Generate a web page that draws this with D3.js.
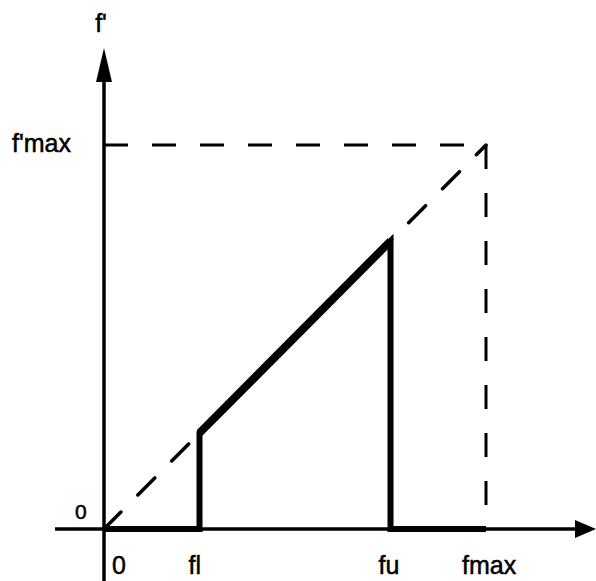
<!DOCTYPE html>
<html>
<head>
<meta charset="utf-8">
<script src="https://cdn.jsdelivr.net/npm/d3@7"></script>
<style>
  html, body { margin: 0; padding: 0; background: #fff; }
  svg { display: block; }
  text { font-family: "Liberation Sans", Arial, Helvetica, sans-serif; fill: #000; stroke: #000; stroke-width: 0.5px; }
</style>
</head>
<body>
<script>
// ---- data ----
const fl = 0.25;
const fu = 0.75;
const fmax = 1;
const fpmax = 1;
const xTickValues = [0, fl, fu, fmax];
const xTickLabels = ["0", "fl", "fu", "fmax"];
const yTickValues = [0, fpmax];
const yTickLabels = ["0", "f'max"];
const axisLabelY = "f'";
// pass-band response (solid) : f -> f'
const responseF = [0, fl, fl, fu, fu, fmax];
const responseFp = [0, 0, fl, fu, 0, 0];
// ideal full-range response (dashed)
const idealF = [0, fmax];
const idealFp = [0, fpmax];

// ---- drawing ----
const W = 596, H = 581;
const svg = d3.select("body").append("svg").attr("width", W).attr("height", H);

const x = d3.scaleLinear().domain([0, fmax]).range([104, 486]);
const y = d3.scaleLinear().domain([0, fpmax]).range([529, 145]);

const line = d3.line().x(d => x(d[0])).y(d => y(d[1]));

// axes
svg.append("line").attr("x1", 55).attr("x2", 578).attr("y1", y(0)).attr("y2", y(0))
  .attr("stroke", "#000").attr("stroke-width", 3.5);
svg.append("path")
  .attr("d", `M596,${y(0)} L575,${y(0) - 9} L575,${y(0) + 9} Z`).attr("fill", "#000");
svg.append("line").attr("x1", x(0)).attr("x2", x(0)).attr("y1", 80).attr("y2", H)
  .attr("stroke", "#000").attr("stroke-width", 3.5);
svg.append("path")
  .attr("d", `M${x(0)},48 L${x(0) - 8},82 L${x(0) + 8},82 Z`).attr("fill", "#000");

// dashed guides
const dash = "24,24";
svg.append("path").attr("d", line([[0, fpmax], [fmax, fpmax]]))
  .attr("fill", "none").attr("stroke", "#000").attr("stroke-width", 3).attr("stroke-dasharray", dash);
svg.append("path").attr("d", line([[fmax, fpmax], [fmax, 0]]))
  .attr("fill", "none").attr("stroke", "#000").attr("stroke-width", 3).attr("stroke-dasharray", dash);
svg.append("path").attr("d", line(idealF.map((f, i) => [f, idealFp[i]])))
  .attr("fill", "none").attr("stroke", "#000").attr("stroke-width", 3.5)
  .attr("stroke-dasharray", dash).attr("stroke-linecap", "round");

// solid response
svg.append("path").attr("d", line(responseF.map((f, i) => [f, responseFp[i]])))
  .attr("fill", "none").attr("stroke", "#000").attr("stroke-width", 6)
  .attr("stroke-linejoin", "miter");
// thicker diagonal segment
svg.append("path").attr("d", line([[fl, fl], [fu, fu]]))
  .attr("fill", "none").attr("stroke", "#000").attr("stroke-width", 8);

// x tick labels
const xOffsets = [8, -11, -12, -24];
svg.selectAll(".xl").data(xTickValues).enter().append("text")
  .attr("x", (d, i) => x(d) + xOffsets[i])
  .attr("y", 574)
  .attr("font-size", 25)
  .attr("text-anchor", "start")
  .text((d, i) => xTickLabels[i]);

// y tick labels
svg.append("text").attr("x", 75).attr("y", y(yTickValues[0]) - 10)
  .attr("font-size", 21).text(yTickLabels[0]);
svg.append("text").attr("x", 12).attr("y", y(yTickValues[1]) + 7)
  .attr("font-size", 25).text(yTickLabels[1]);

// y axis title
svg.append("text").attr("x", x(0) - 3).attr("y", 32).attr("text-anchor", "middle")
  .attr("font-size", 25).text(axisLabelY);
</script>
</body>
</html>
